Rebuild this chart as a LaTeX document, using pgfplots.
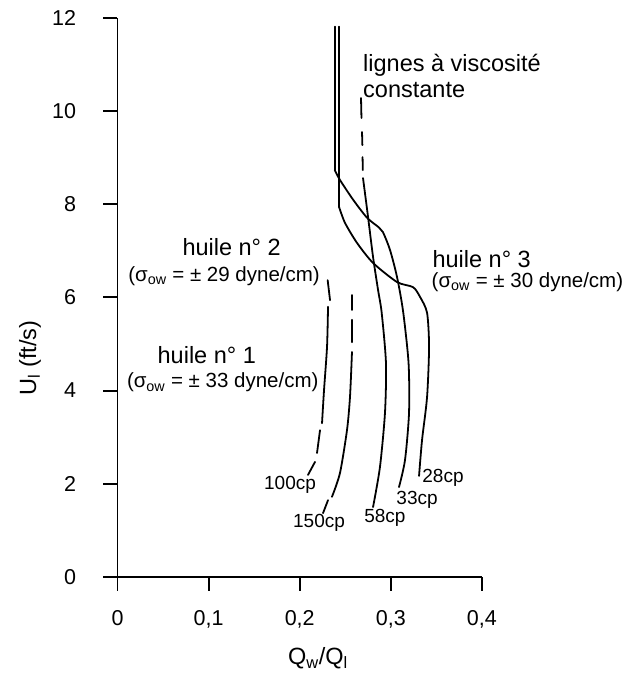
\documentclass[border=0pt]{standalone}
\usepackage{pgfplots}
\pgfplotsset{compat=1.18}
\usepackage{fontspec}
\setmainfont{Liberation Sans}

\newcommand{\lblfont}{\fontsize{23.5bp}{28bp}\selectfont}
\newcommand{\tickfont}{\fontsize{21.5bp}{26bp}\selectfont}
\newcommand{\cpfont}{\fontsize{19bp}{23bp}\selectfont}
\newcommand{\sigfont}{\fontsize{20.5bp}{24bp}\selectfont}
\newcommand{\sig}[1]{(σ\textsubscript{ow} = ± #1 dyne/cm)}

\pgfplotsset{
  crv/.style={black, line width=1.8pt, line cap=round, mark=none},
  scrv/.style={crv, smooth, tension=0.45},
}

\begin{document}
\begin{tikzpicture}
\begin{axis}[
  x=911bp, y=46.6bp,
  xmin=0, xmax=0.4, ymin=0, ymax=12,
  axis lines=left, axis line style={-, line width=2pt},
  tick align=outside, major tick length=14bp,
  tick style={line width=2pt, black},
  xtick={0,0.1,0.2,0.3,0.4}, ytick={0,2,4,6,8,10,12},
  xticklabel={\tickfont\pgfmathprintnumber[use comma, fixed, precision=1, assume math mode=true]{\tick}},
  yticklabel={\tickfont\pgfmathprintnumber[assume math mode=true]{\tick}},
  xticklabel shift=16bp,
  yticklabel shift=24bp,
  xlabel={Q\textsubscript{w}/Q\textsubscript{l}},
  ylabel={U\textsubscript{l} (ft/s)},
  xlabel style={font=\lblfont, at={(axis description cs:0.55,-0.145)}, anchor=center},
  ylabel style={font=\lblfont, at={(axis description cs:-0.24,0.392)}, anchor=center},
  clip=false,
]
% straight upper branches
\addplot[crv] coordinates {(0.2385,11.81) (0.2385,8.73)};
\addplot[crv] coordinates {(0.2432,11.81) (0.2432,7.94)};

% 33 cp
\addplot[scrv] coordinates {
  (0.2385,8.73) (0.2442,8.52) (0.2585,8.10) (0.2739,7.71) (0.2870,7.50)
  (0.2914,7.40) (0.2991,7.02) (0.3068,6.44) (0.3135,5.70) (0.3195,4.59)
  (0.3200,3.52) (0.3156,2.51) (0.3090,1.93)};

% 28 cp
\addplot[scrv] coordinates {
  (0.2432,7.94) (0.2497,7.60) (0.2629,7.17) (0.2805,6.74) (0.3068,6.33)
  (0.3244,6.22) (0.3321,6.01) (0.3398,5.67) (0.3420,4.94) (0.3398,3.86)
  (0.3343,2.94) (0.3310,2.17)};

% 58 cp
\addplot[crv] coordinates {(0.2673,10.28) (0.2678,9.85)};
\addplot[crv] coordinates {(0.2684,9.55) (0.2688,9.27)};
\addplot[crv] coordinates {(0.2690,9.01) (0.2693,8.73)};
\addplot[scrv] coordinates {
  (0.2695,8.56) (0.2750,7.73) (0.2805,6.87) (0.2860,6.16) (0.2900,5.67)
  (0.2947,4.59) (0.2936,3.52) (0.2881,2.36) (0.2805,1.50)};

% 150 cp
\addplot[crv] coordinates {(0.2574,6.05) (0.2574,5.73)};
\addplot[crv] coordinates {(0.2574,5.52) (0.2574,5.04)};
\addplot[scrv] coordinates {
  (0.2574,4.83) (0.2552,3.86) (0.2519,3.15) (0.2442,2.23) (0.2354,1.72)};
\addplot[crv] coordinates {(0.2311,1.65) (0.2256,1.37)};

% 100 cp
\addplot[crv] coordinates {(0.2307,6.37) (0.2333,5.94)};
\addplot[scrv] coordinates {
  (0.2311,5.80) (0.2300,4.94) (0.2267,4.01) (0.2245,3.30)};
\addplot[crv] coordinates {(0.2223,3.15) (0.2190,2.66)};
\addplot[crv] coordinates {(0.2168,2.47) (0.2091,2.19)};

% curve labels
\node[font=\cpfont] at (axis cs:0.3573,2.12) {28cp};
\node[font=\cpfont] at (axis cs:0.3288,1.65) {33cp};
\node[font=\cpfont] at (axis cs:0.2936,1.27) {58cp};
\node[font=\cpfont] at (axis cs:0.2212,1.16) {150cp};
\node[font=\cpfont] at (axis cs:0.1894,1.97) {100cp};

% oil annotations
\node[font=\lblfont] at (axis cs:0.1253,7.09) {huile n° 2};
\node[font=\sigfont] at (axis cs:0.117,6.46) {\sig{29}};
\node[font=\lblfont] at (axis cs:0.098,4.76) {huile n° 1};
\node[font=\sigfont] at (axis cs:0.1155,4.17) {\sig{33}};
\node[font=\lblfont] at (axis cs:0.3998,6.82) {huile n° 3};
\node[font=\sigfont] at (axis cs:0.450,6.32) {\sig{30}};
\node[font=\lblfont, anchor=west, inner sep=0pt] at (axis cs:0.2695,10.99) {lignes à viscosité};
\node[font=\lblfont, anchor=west, inner sep=0pt] at (axis cs:0.2695,10.45) {constante};
\end{axis}
\pgfresetboundingbox
\path[use as bounding box] (-117.5bp,-97bp) rectangle (505.5bp,577bp);
\end{tikzpicture}
\end{document}
